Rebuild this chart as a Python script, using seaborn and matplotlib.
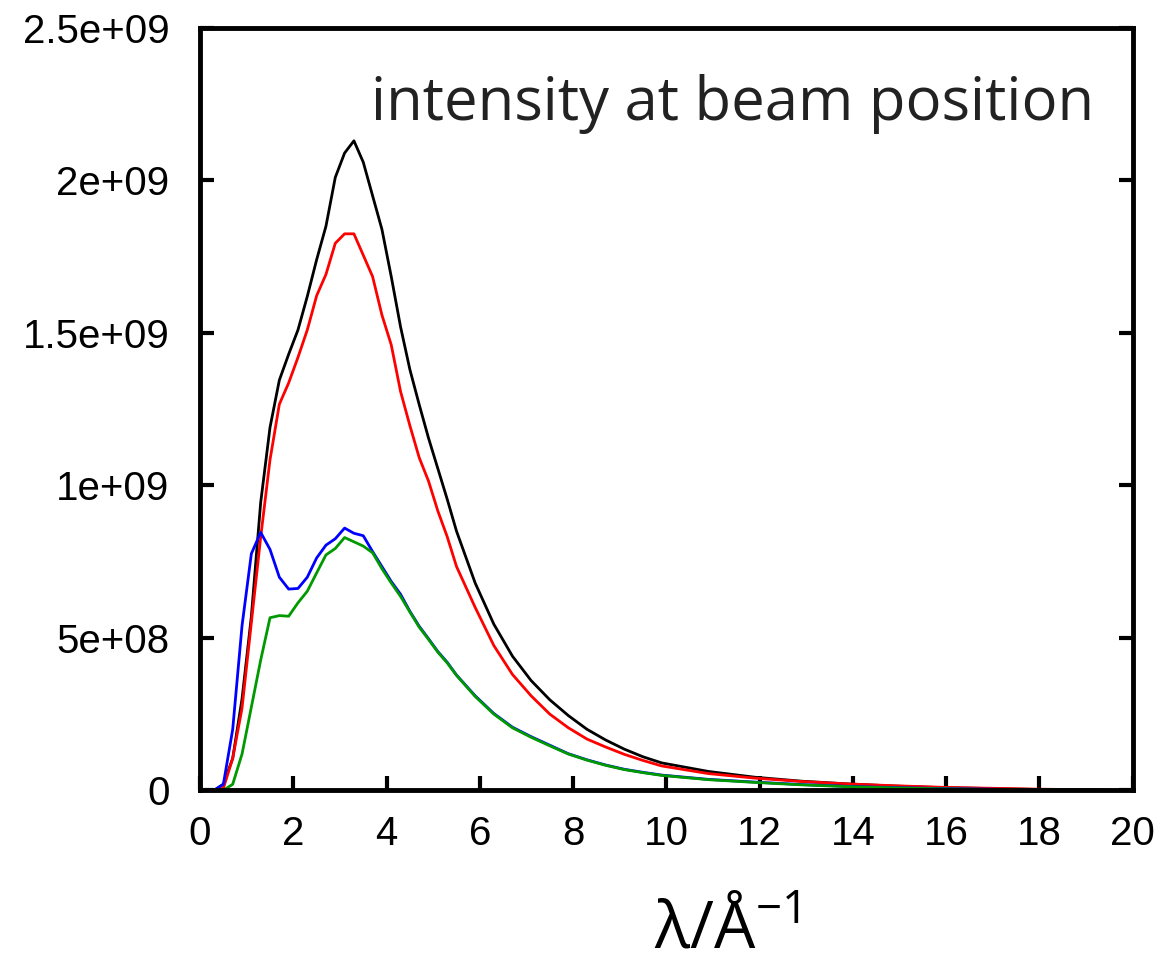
import numpy as np
import pandas as pd
import seaborn as sns
import matplotlib.pyplot as plt
from matplotlib.ticker import FuncFormatter

# wavelength grid (1/Angstrom)
lam = [0.1, 0.3, 0.5, 0.7, 0.9, 1.1, 1.3, 1.5, 1.7, 1.9, 2.1, 2.3, 2.5, 2.7,
       2.9, 3.1, 3.3, 3.5, 3.7, 3.9, 4.1, 4.3, 4.5, 4.7, 4.9, 5.1, 5.3, 5.5,
       5.9, 6.3, 6.7, 7.1, 7.5, 7.9, 8.3, 8.7, 9.1, 9.5, 9.9,
       10.9, 11.9, 12.9, 13.9, 14.9, 15.9, 16.9, 17.9, 18.9, 19.9]

# intensities in units of 1e9
black = [0.0, 0.0, 0.02, 0.105, 0.30, 0.57, 0.944, 1.19, 1.345, 1.43, 1.51, 1.62, 1.74, 1.85,
         2.01, 2.09, 2.13, 2.06, 1.95, 1.84, 1.685, 1.52, 1.38, 1.265, 1.155, 1.055, 0.955, 0.85,
         0.68, 0.545, 0.44, 0.36, 0.297, 0.245, 0.20, 0.165, 0.135, 0.11, 0.09,
         0.062, 0.043, 0.030, 0.021, 0.014, 0.009, 0.006, 0.003, 0.001, 0.0]
red = [0.0, 0.0, 0.007, 0.105, 0.27, 0.55, 0.83, 1.084, 1.266, 1.336, 1.42, 1.51, 1.622, 1.692,
       1.794, 1.825, 1.825, 1.755, 1.685, 1.559, 1.461, 1.308, 1.196, 1.091, 1.014, 0.916, 0.832, 0.734,
       0.60, 0.475, 0.38, 0.31, 0.25, 0.205, 0.168, 0.142, 0.118, 0.098, 0.08,
       0.055, 0.040, 0.029, 0.021, 0.015, 0.010, 0.007, 0.004, 0.002, 0.0]
blue = [0.0, 0.0, 0.02, 0.20, 0.54, 0.776, 0.846, 0.79, 0.699, 0.66, 0.662, 0.699, 0.762, 0.804,
        0.825, 0.86, 0.843, 0.835, 0.783, 0.734, 0.685, 0.643, 0.587, 0.538, 0.497, 0.455, 0.42, 0.378,
        0.31, 0.252, 0.207, 0.176, 0.148, 0.12, 0.10, 0.083, 0.069, 0.059, 0.050,
        0.036, 0.027, 0.019, 0.013, 0.009, 0.006, 0.004, 0.002, 0.001, 0.0]
green = [0.0, 0.0, 0.0, 0.02, 0.119, 0.273, 0.427, 0.566, 0.573, 0.571, 0.615, 0.653, 0.713, 0.772,
         0.793, 0.829, 0.815, 0.801, 0.779, 0.727, 0.680, 0.636, 0.585, 0.535, 0.495, 0.453, 0.418, 0.377,
         0.308, 0.250, 0.205, 0.174, 0.146, 0.119, 0.099, 0.082, 0.068, 0.058, 0.049,
         0.035, 0.026, 0.018, 0.012, 0.008, 0.005, 0.003, 0.002, 0.001, 0.0]

series = {'black': black, 'red': red, 'blue': blue, 'green': green}
colors = {'black': '#000000', 'red': '#ff0000', 'blue': '#0000ff', 'green': '#009900'}

sns.set_style("ticks")
plt.rcParams['font.family'] = ['Liberation Sans', 'DejaVu Sans']
plt.rcParams['text.color'] = 'black'
plt.rcParams['xtick.color'] = 'black'
plt.rcParams['ytick.color'] = 'black'

fig = plt.figure(figsize=(11.7, 9.65), dpi=100)
ax = fig.add_axes([0.171, 0.181, 0.797, 0.79])

for name, vals in series.items():
      df = pd.DataFrame({'lam': lam, 'I': np.array(vals) * 1e9})
      sns.lineplot(data=df, x='lam', y='I', color=colors[name], linewidth=2.0,
                   estimator=None, sort=False, ax=ax)

ax.set_xlim(0, 20)
ax.set_ylim(0, 2.5e9)
ax.set_xticks(np.arange(0, 21, 2))
ax.set_yticks(np.arange(0, 2.51e9, 0.5e9))
ax.yaxis.set_major_formatter(FuncFormatter(lambda v, p: '%g' % v))
ax.tick_params(direction='in', length=10, width=3, labelsize=29,
               right=True, top=False, colors='black')
ax.tick_params(axis='y', pad=22)
ax.tick_params(axis='x', pad=18)
for sp in ax.spines.values():
      sp.set_linewidth(3.5)
      sp.set_color('black')

ax.set_xlabel(r'$\mathregular{λ/Å^{-1}}$', fontsize=47,
              family=['Open Sans', 'DejaVu Sans'], color='black')
ax.xaxis.set_label_coords(0.565, -0.14)
ax.set_ylabel('')
ax.text(0.959, 0.94, 'intensity at beam position', transform=ax.transAxes,
        ha='right', va='top', fontsize=43, family=['Open Sans', 'DejaVu Sans'],
        color='#222222')

fig.savefig('out.png', dpi=100)
